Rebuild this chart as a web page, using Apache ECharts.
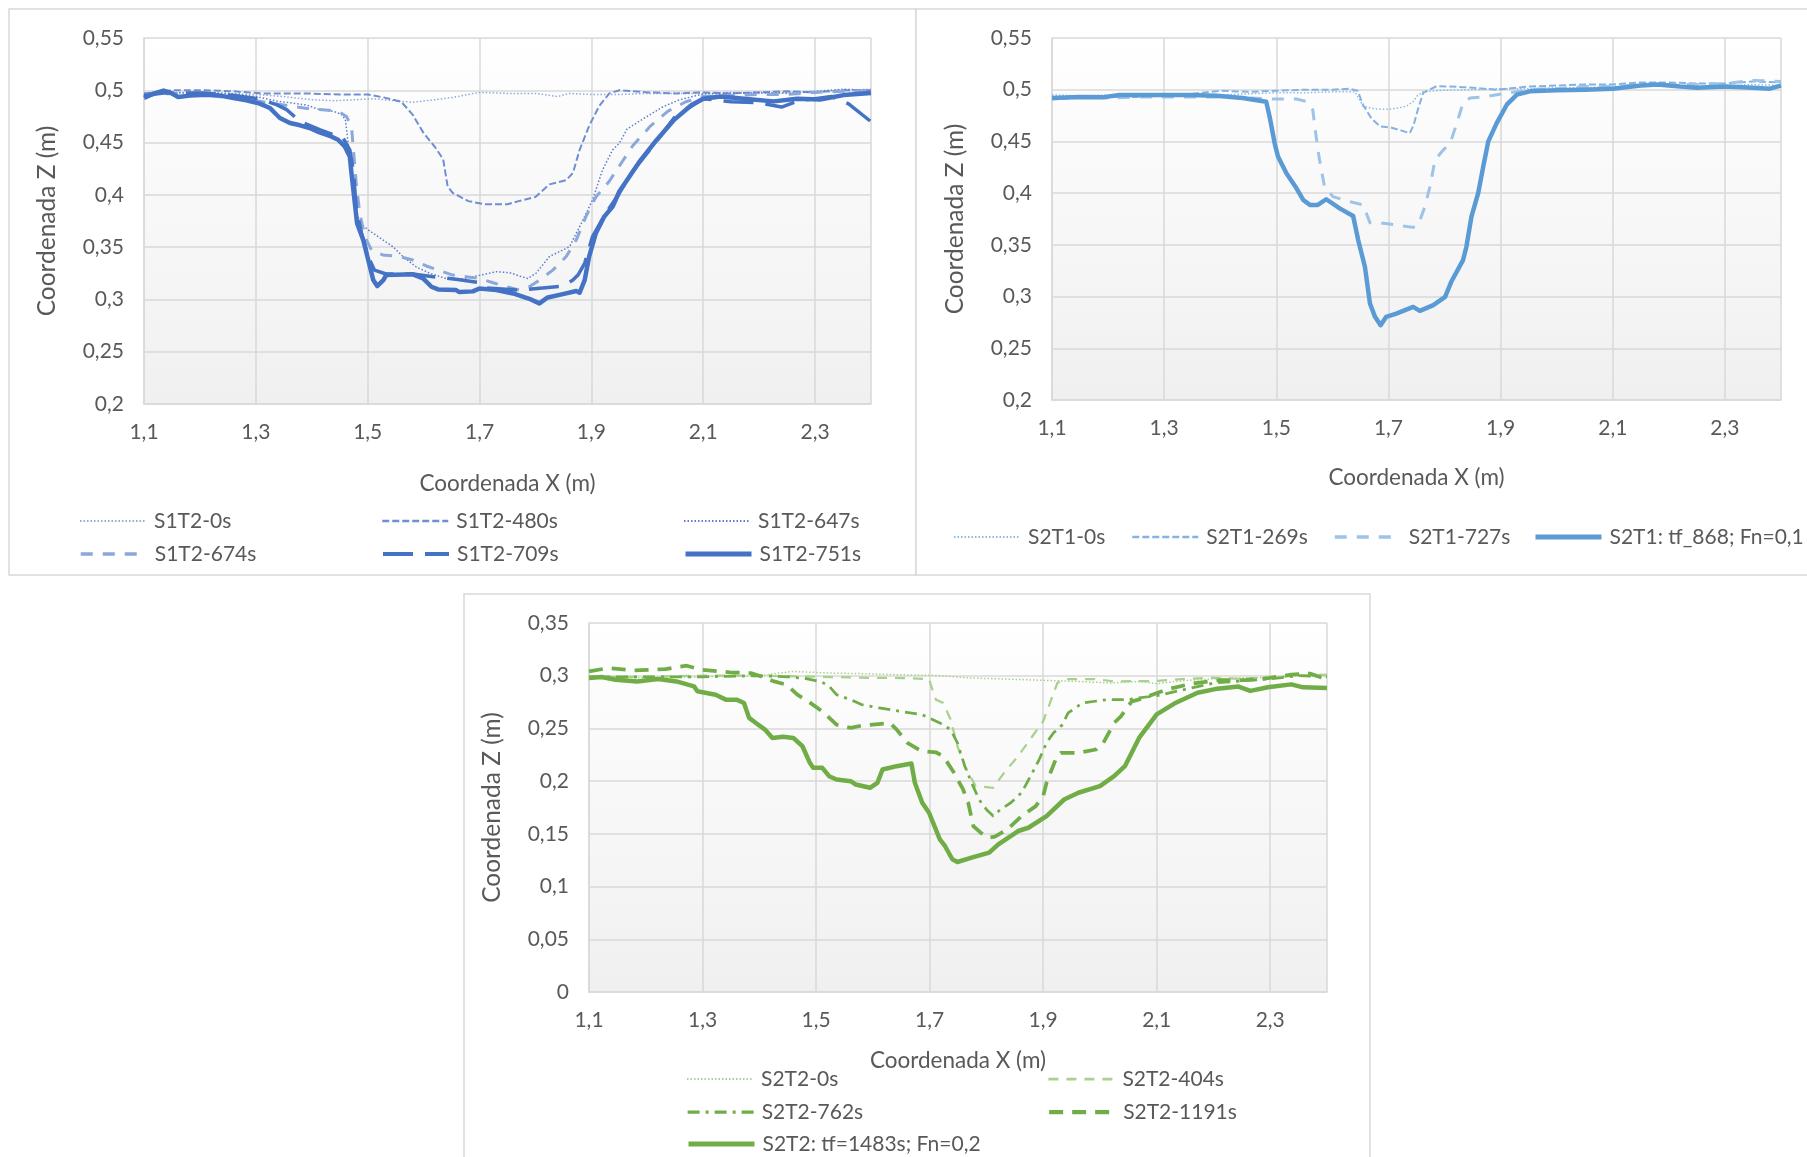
<!DOCTYPE html>
<html>
<head>
<meta charset="utf-8">
<title>Perfiles de erosión</title>
<script src="https://cdn.jsdelivr.net/npm/echarts@6/dist/echarts.min.js"></script>
<style>
  html, body { margin: 0; padding: 0; background: #ffffff; }
  #chart { width: 1807px; height: 1157px; }
</style>
</head>
<body>
<div id="chart"></div>
<script>
// ---------- Ensayo S1T2: perfiles [X (m), Z (m)] ----------
const s1t2_0s = [[1.10,0.497],[1.15,0.498],[1.20,0.497],[1.25,0.497],[1.30,0.496],[1.35,0.494],[1.40,0.491],[1.44,0.490],[1.48,0.491],[1.51,0.492],[1.55,0.490],[1.58,0.4885],[1.62,0.491],[1.65,0.493],[1.70,0.498],[1.75,0.497],[1.80,0.497],[1.84,0.494],[1.86,0.497],[1.90,0.496],[1.95,0.496],[2.00,0.497],[2.05,0.497],[2.10,0.497],[2.15,0.498],[2.20,0.497],[2.25,0.498],[2.30,0.499],[2.35,0.500],[2.40,0.501]];
const s1t2_480s = [[1.10,0.497],[1.15,0.500],[1.21,0.500],[1.26,0.499],[1.31,0.497],[1.39,0.497],[1.45,0.496],[1.50,0.496],[1.53,0.493],[1.56,0.489],[1.58,0.477],[1.60,0.459],[1.62,0.446],[1.635,0.434],[1.643,0.408],[1.652,0.402],[1.68,0.394],[1.71,0.391],[1.75,0.391],[1.77,0.394],[1.80,0.398],[1.825,0.410],[1.855,0.414],[1.867,0.421],[1.879,0.443],[1.896,0.466],[1.914,0.485],[1.932,0.497],[1.95,0.500],[2.00,0.498],[2.05,0.497],[2.10,0.498],[2.15,0.497],[2.20,0.498],[2.25,0.499],[2.30,0.498],[2.35,0.500],[2.40,0.500]];
const s1t2_647s = [[1.10,0.497],[1.20,0.498],[1.25,0.497],[1.30,0.494],[1.34,0.4895],[1.39,0.486],[1.414,0.4815],[1.438,0.480],[1.453,0.477],[1.46,0.472],[1.465,0.450],[1.471,0.414],[1.477,0.389],[1.486,0.373],[1.501,0.3665],[1.527,0.357],[1.545,0.3505],[1.563,0.341],[1.587,0.331],[1.611,0.325],[1.64,0.320],[1.658,0.3185],[1.688,0.3217],[1.70,0.323],[1.73,0.3265],[1.754,0.3256],[1.771,0.3224],[1.786,0.320],[1.801,0.325],[1.825,0.341],[1.861,0.3505],[1.885,0.376],[1.902,0.395],[1.92,0.424],[1.938,0.443],[1.95,0.4495],[1.964,0.463],[1.995,0.4735],[2.027,0.484],[2.058,0.491],[2.10,0.4965],[2.15,0.497],[2.20,0.498],[2.25,0.497],[2.30,0.499],[2.35,0.501],[2.40,0.500]];
const s1t2_674s = [[1.10,0.495],[1.15,0.497],[1.20,0.496],[1.25,0.493],[1.30,0.490],[1.35,0.486],[1.40,0.482],[1.43,0.481],[1.45,0.479],[1.462,0.475],[1.471,0.4655],[1.474,0.446],[1.48,0.408],[1.486,0.382],[1.495,0.360],[1.507,0.347],[1.527,0.3425],[1.557,0.341],[1.581,0.3377],[1.605,0.332],[1.629,0.3275],[1.652,0.3233],[1.676,0.3217],[1.70,0.320],[1.724,0.316],[1.748,0.3121],[1.771,0.3089],[1.789,0.3121],[1.807,0.3185],[1.831,0.328],[1.855,0.341],[1.873,0.357],[1.89,0.379],[1.908,0.398],[1.932,0.413],[1.953,0.430],[1.974,0.447],[2.006,0.466],[2.037,0.480],[2.069,0.489],[2.10,0.494],[2.15,0.495],[2.20,0.496],[2.25,0.496],[2.30,0.498],[2.35,0.499],[2.40,0.500]];
const s1t2_709s = [[1.10,0.4949],[1.135,0.4974],[1.206,0.4974],[1.265,0.4949],[1.307,0.4917],[1.337,0.4863],[1.355,0.4815],[1.379,0.4703],[1.414,0.4623],[1.438,0.4575],[1.456,0.4543],[1.468,0.4431],[1.474,0.424],[1.48,0.3856],[1.489,0.3633],[1.501,0.3409],[1.512,0.3281],[1.533,0.3243],[1.581,0.3243],[1.617,0.3217],[1.658,0.3192],[1.70,0.316],[1.712,0.3109],[1.771,0.3089],[1.849,0.3128],[1.867,0.3185],[1.876,0.3233],[1.888,0.3345],[1.902,0.3601],[1.926,0.3824],[1.95,0.4016],[1.97,0.420],[2.00,0.440],[2.05,0.475],[2.10,0.492],[2.15,0.489],[2.20,0.488],[2.24,0.484],[2.27,0.490],[2.30,0.492],[2.33,0.494],[2.36,0.487],[2.40,0.470]];
const s1t2_751s = [[1.10,0.4927],[1.117,0.4968],[1.135,0.4997],[1.146,0.498],[1.161,0.4936],[1.182,0.4949],[1.212,0.4958],[1.236,0.4949],[1.26,0.4927],[1.283,0.4904],[1.307,0.4872],[1.325,0.4831],[1.334,0.4783],[1.343,0.4735],[1.361,0.4687],[1.379,0.4665],[1.396,0.4639],[1.414,0.4597],[1.432,0.4565],[1.447,0.4527],[1.459,0.4463],[1.468,0.4367],[1.471,0.4208],[1.477,0.392],[1.481,0.3728],[1.492,0.3569],[1.501,0.3377],[1.51,0.3185],[1.517,0.3128],[1.528,0.3185],[1.533,0.3233],[1.581,0.324],[1.599,0.3201],[1.614,0.3121],[1.626,0.3096],[1.658,0.3089],[1.664,0.307],[1.688,0.3077],[1.70,0.3105],[1.73,0.3089],[1.76,0.3057],[1.789,0.3006],[1.807,0.2962],[1.822,0.3019],[1.849,0.3051],[1.873,0.308],[1.879,0.3064],[1.888,0.3185],[1.896,0.3409],[1.908,0.3633],[1.923,0.3792],[1.938,0.3888],[1.95,0.4032],[1.985,0.431],[2.016,0.452],[2.048,0.4717],[2.079,0.4859],[2.10,0.4919],[2.131,0.494],[2.173,0.4919],[2.226,0.4894],[2.268,0.4919],[2.309,0.4912],[2.351,0.4954],[2.40,0.4975]];

// ---------- Ensayo S2T1 ----------
const s2t1_0s = [[1.10,0.495],[1.15,0.494],[1.20,0.495],[1.25,0.495],[1.30,0.495],[1.35,0.494],[1.40,0.495],[1.45,0.496],[1.50,0.497],[1.55,0.497],[1.60,0.498],[1.64,0.498],[1.655,0.484],[1.675,0.4815],[1.697,0.481],[1.715,0.482],[1.732,0.484],[1.745,0.489],[1.75,0.4935],[1.762,0.498],[1.80,0.4995],[1.85,0.500],[1.90,0.501],[1.95,0.501],[2.00,0.502],[2.05,0.502],[2.10,0.503],[2.15,0.503],[2.20,0.504],[2.25,0.503],[2.30,0.504],[2.35,0.505],[2.40,0.504]];
const s2t1_269s = [[1.10,0.491],[1.15,0.492],[1.20,0.493],[1.25,0.493],[1.30,0.494],[1.35,0.496],[1.40,0.499],[1.45,0.498],[1.50,0.499],[1.55,0.500],[1.60,0.500],[1.63,0.501],[1.645,0.499],[1.655,0.485],[1.67,0.472],[1.685,0.4645],[1.704,0.4635],[1.72,0.461],[1.738,0.458],[1.745,0.466],[1.752,0.480],[1.762,0.497],[1.786,0.5035],[1.833,0.5025],[1.87,0.501],[1.893,0.500],[1.95,0.503],[2.00,0.504],[2.05,0.505],[2.10,0.505],[2.15,0.507],[2.20,0.507],[2.25,0.506],[2.30,0.506],[2.35,0.508],[2.40,0.507]];
const s2t1_727s = [[1.10,0.491],[1.15,0.493],[1.20,0.492],[1.25,0.493],[1.30,0.493],[1.35,0.493],[1.40,0.493],[1.45,0.492],[1.494,0.491],[1.536,0.491],[1.554,0.4887],[1.565,0.4806],[1.571,0.4548],[1.577,0.4322],[1.586,0.4063],[1.601,0.3966],[1.631,0.3918],[1.655,0.3886],[1.667,0.3714],[1.691,0.3708],[1.714,0.3692],[1.744,0.3669],[1.753,0.3692],[1.765,0.387],[1.774,0.4063],[1.783,0.4322],[1.798,0.4419],[1.81,0.4483],[1.821,0.4661],[1.833,0.4871],[1.845,0.4919],[1.875,0.4935],[1.911,0.4968],[1.952,0.500],[2.00,0.501],[2.05,0.503],[2.10,0.503],[2.15,0.505],[2.20,0.505],[2.25,0.505],[2.30,0.506],[2.35,0.509],[2.40,0.508]];
const s2t1_868s = [[1.10,0.4919],[1.149,0.4929],[1.19,0.4926],[1.22,0.4948],[1.298,0.4948],[1.345,0.4948],[1.393,0.4942],[1.44,0.4919],[1.482,0.4884],[1.488,0.4742],[1.497,0.4483],[1.503,0.4354],[1.518,0.4192],[1.536,0.4047],[1.548,0.3934],[1.56,0.3886],[1.574,0.3886],[1.589,0.3941],[1.613,0.3853],[1.637,0.3779],[1.646,0.3547],[1.658,0.3288],[1.667,0.2933],[1.676,0.2804],[1.686,0.2723],[1.696,0.2804],[1.714,0.2836],[1.744,0.290],[1.756,0.2862],[1.78,0.2917],[1.801,0.2997],[1.812,0.3143],[1.833,0.3353],[1.839,0.3482],[1.848,0.3773],[1.86,0.400],[1.869,0.4257],[1.878,0.450],[1.893,0.4677],[1.911,0.4855],[1.929,0.4952],[1.952,0.4984],[2.00,0.4995],[2.05,0.500],[2.10,0.501],[2.15,0.504],[2.18,0.505],[2.22,0.503],[2.25,0.502],[2.30,0.503],[2.35,0.502],[2.38,0.501],[2.40,0.504]];

// ---------- Ensayo S2T2 ----------
const s2t2_0s = [[1.10,0.298],[1.20,0.298],[1.30,0.299],[1.40,0.300],[1.435,0.3025],[1.46,0.3041],[1.523,0.3025],[1.586,0.3019],[1.649,0.3009],[1.711,0.3003],[1.774,0.2978],[1.837,0.2968],[1.90,0.2956],[1.962,0.2946],[2.018,0.2931],[2.068,0.2946],[2.10,0.2925],[2.15,0.2955],[2.20,0.297],[2.25,0.298],[2.30,0.298],[2.35,0.300],[2.40,0.300]];
const s2t2_404s = [[1.10,0.299],[1.20,0.299],[1.30,0.300],[1.40,0.300],[1.50,0.299],[1.60,0.298],[1.649,0.2978],[1.699,0.2968],[1.705,0.2867],[1.711,0.2773],[1.724,0.2741],[1.737,0.2584],[1.749,0.2331],[1.762,0.2142],[1.781,0.1953],[1.812,0.1937],[1.831,0.2079],[1.856,0.2237],[1.881,0.2426],[1.90,0.2568],[1.912,0.2741],[1.925,0.2931],[1.937,0.2968],[1.993,0.2968],[2.025,0.2946],[2.10,0.295],[2.15,0.297],[2.20,0.298],[2.25,0.297],[2.30,0.299],[2.35,0.300],[2.40,0.301]];
const s2t2_762s = [[1.10,0.299],[1.20,0.299],[1.30,0.299],[1.40,0.300],[1.45,0.299],[1.48,0.2975],[1.51,0.294],[1.523,0.290],[1.536,0.282],[1.561,0.2773],[1.58,0.2726],[1.611,0.2694],[1.649,0.2662],[1.686,0.2631],[1.705,0.2584],[1.718,0.2552],[1.737,0.2489],[1.749,0.2363],[1.762,0.2142],[1.774,0.1984],[1.787,0.1826],[1.80,0.1732],[1.812,0.1669],[1.825,0.1732],[1.843,0.1795],[1.862,0.189],[1.881,0.2079],[1.893,0.2205],[1.906,0.2363],[1.918,0.2457],[1.934,0.2536],[1.944,0.2647],[1.969,0.2741],[2.012,0.2773],[2.05,0.2773],[2.068,0.2789],[2.10,0.281],[2.15,0.287],[2.20,0.293],[2.25,0.295],[2.30,0.297],[2.35,0.300],[2.40,0.299]];
const s2t2_1191s = [[1.10,0.3041],[1.134,0.3073],[1.178,0.305],[1.235,0.3063],[1.272,0.3095],[1.297,0.3057],[1.348,0.3032],[1.385,0.3025],[1.40,0.300],[1.426,0.2946],[1.448,0.2915],[1.467,0.282],[1.486,0.2757],[1.511,0.2662],[1.536,0.2536],[1.561,0.2505],[1.58,0.2527],[1.63,0.2552],[1.642,0.2489],[1.661,0.2363],[1.686,0.2284],[1.711,0.2274],[1.724,0.2237],[1.743,0.2079],[1.759,0.1921],[1.768,0.1795],[1.777,0.1574],[1.79,0.1511],[1.802,0.1464],[1.815,0.1473],[1.837,0.1543],[1.862,0.1669],[1.887,0.1763],[1.90,0.1858],[1.906,0.1984],[1.922,0.2205],[1.931,0.2268],[1.962,0.2268],[1.993,0.230],[2.006,0.2363],[2.025,0.2552],[2.037,0.2615],[2.056,0.2757],[2.068,0.2773],[2.12,0.2873],[2.162,0.2925],[2.213,0.2959],[2.255,0.2959],[2.296,0.2976],[2.337,0.301],[2.37,0.302],[2.40,0.2966]];
const s2t2_1483s = [[1.10,0.2978],[1.122,0.2987],[1.147,0.2962],[1.185,0.2946],[1.222,0.2968],[1.254,0.2946],[1.285,0.2899],[1.291,0.2852],[1.323,0.282],[1.341,0.2773],[1.36,0.2773],[1.373,0.2741],[1.382,0.260],[1.394,0.2552],[1.41,0.2489],[1.423,0.241],[1.442,0.242],[1.46,0.241],[1.476,0.2331],[1.489,0.2174],[1.495,0.2126],[1.511,0.2126],[1.523,0.2047],[1.536,0.2016],[1.561,0.200],[1.57,0.1968],[1.595,0.1937],[1.608,0.1984],[1.617,0.211],[1.642,0.2142],[1.668,0.2167],[1.674,0.1984],[1.687,0.1795],[1.699,0.170],[1.718,0.1448],[1.727,0.1385],[1.74,0.1259],[1.749,0.1233],[1.774,0.1274],[1.805,0.1322],[1.821,0.1401],[1.856,0.1527],[1.874,0.1558],[1.906,0.1669],[1.937,0.1826],[1.962,0.189],[2.00,0.1953],[2.025,0.2047],[2.044,0.2142],[2.069,0.241],[2.10,0.2633],[2.131,0.2736],[2.172,0.2839],[2.203,0.2873],[2.244,0.2897],[2.265,0.2856],[2.296,0.289],[2.337,0.2918],[2.358,0.289],[2.40,0.2883]];

// ---------- Axis ranges and tick steps ----------
const xRange = [1.1, 2.4];
const xStep = 0.2;
const zRangeS1 = [0.2, 0.55];
const zRangeS2T2 = [0, 0.35];
const zStep = 0.05;

// ---------- Series names ----------
const namesS1T2 = ['S1T2-0s', 'S1T2-480s', 'S1T2-647s', 'S1T2-674s', 'S1T2-709s', 'S1T2-751s'];
const namesS2T1 = ['S2T1-0s', 'S2T1-269s', 'S2T1-727s', 'S2T1: tf_868; Fn=0,1'];
const namesS2T2 = ['S2T2-0s', 'S2T2-404s', 'S2T2-762s', 'S2T2-1191s', 'S2T2: tf=1483s; Fn=0,2'];

const FONT = 'Lato, "Open Sans", sans-serif';
const TEXT = '#595959';
const GRIDLINE = '#D9D9D9';

function comma(v) {
  return String(Math.round(v * 1000) / 1000).replace('.', ',');
}
function xLabel(v) {
  const k = (v - xRange[0]) / xStep;
  if (Math.abs(k - Math.round(k)) > 1e-6) return '';
  return comma(v);
}

// plot boxes: [left, top, width, height]
const plots = [
  [144, 38, 727, 366],
  [1052, 38, 729, 362],
  [589, 623, 738, 369]
];
const zRanges = [zRangeS1, zRangeS1, zRangeS2T2];
const xNameGap = [68, 66, 57];

const grids = plots.map(p => ({
  left: p[0], top: p[1], width: p[2], height: p[3],
  show: true, borderWidth: 0,
  backgroundColor: {
    type: 'linear', x: 0, y: 0, x2: 0, y2: 1,
    colorStops: [{ offset: 0, color: '#FFFFFF' }, { offset: 1, color: '#F0F0F0' }]
  }
}));

const xAxes = plots.map((p, i) => ({
  type: 'value', gridIndex: i,
  min: xRange[0], max: xRange[1], interval: xStep,
  name: 'Coordenada X (m)', nameLocation: 'middle', nameGap: xNameGap[i],
  nameTextStyle: { fontFamily: FONT, fontSize: 22.5, color: TEXT },
  axisLine: { show: true, lineStyle: { color: GRIDLINE, width: 1.5 } },
  axisTick: { show: false },
  splitLine: { show: true, lineStyle: { color: GRIDLINE, width: 1.5 } },
  axisLabel: { fontFamily: FONT, fontSize: 21, color: TEXT, margin: 18, formatter: xLabel, showMaxLabel: false }
}));

const yAxes = plots.map((p, i) => ({
  type: 'value', gridIndex: i,
  min: zRanges[i][0], max: zRanges[i][1], interval: zStep,
  name: 'Coordenada Z (m)', nameLocation: 'middle', nameGap: 84, nameRotate: 90,
  nameTextStyle: { fontFamily: FONT, fontSize: 24.5, color: TEXT },
  axisLine: { show: true, lineStyle: { color: GRIDLINE, width: 1.5 } },
  axisTick: { show: false },
  splitLine: { show: true, lineStyle: { color: GRIDLINE, width: 1.5 } },
  axisLabel: { fontFamily: FONT, fontSize: 21, color: TEXT, margin: 20, formatter: comma }
}));

function line(name, data, gi, color, width, type) {
  return {
    name, type: 'line', data, xAxisIndex: gi, yAxisIndex: gi,
    symbol: 'none', showSymbol: false, smooth: false, silent: true,
    lineStyle: { color, width, type, join: 'round', cap: 'butt' },
    itemStyle: { color }
  };
}
const DOT = [1.5, 2];

const series = [
  line(namesS1T2[0], s1t2_0s, 0, '#8FAADC', 1.5, DOT),
  line(namesS1T2[1], s1t2_480s, 0, '#6F8FD0', 2, [7, 3]),
  line(namesS1T2[2], s1t2_647s, 0, '#5A7ECB', 1.5, DOT),
  line(namesS1T2[3], s1t2_674s, 0, '#8BA7DB', 3, [12, 10]),
  line(namesS1T2[4], s1t2_709s, 0, '#4472C4', 3.5, [30, 12]),
  line(namesS1T2[5], s1t2_751s, 0, '#4472C4', 4.5, 'solid'),

  line(namesS2T1[0], s2t1_0s, 1, '#8DB9E5', 1.5, DOT),
  line(namesS2T1[1], s2t1_269s, 1, '#84B3E1', 2, [7, 3]),
  line(namesS2T1[2], s2t1_727s, 1, '#9DC3E6', 3, [12, 10]),
  line(namesS2T1[3], s2t1_868s, 1, '#5B9BD5', 4.5, 'solid'),

  line(namesS2T2[0], s2t2_0s, 2, '#A9D18E', 1.5, DOT),
  line(namesS2T2[1], s2t2_404s, 2, '#A9D18E', 2.25, [10, 8]),
  line(namesS2T2[2], s2t2_762s, 2, '#70AD47', 2.75, [12, 6, 3, 6]),
  line(namesS2T2[3], s2t2_1191s, 2, '#70AD47', 3.75, [14, 9]),
  line(namesS2T2[4], s2t2_1483s, 2, '#70AD47', 4.5, 'solid')
];

// one legend block per entry, laid out in columns under each plot;
// the key shows only the stroke (no marker), at the series' own width
function legendItem(name, left, centerY) {
  const s = series.find(d => d.name === name);
  return {
    data: [name], left, top: centerY - 12, orient: 'horizontal',
    padding: 0, itemWidth: 66, itemHeight: 14, itemGap: 0, selectedMode: false,
    itemStyle: { opacity: 0 },
    lineStyle: { width: s.lineStyle.width + 0.5 },
    textStyle: { fontFamily: FONT, fontSize: 21, color: TEXT, lineHeight: 24, padding: [0, 0, 0, 3] }
  };
}
const legends = [
  legendItem(namesS1T2[0], 79, 521), legendItem(namesS1T2[1], 381, 521), legendItem(namesS1T2[2], 683, 521),
  legendItem(namesS1T2[3], 79, 554), legendItem(namesS1T2[4], 381, 554), legendItem(namesS1T2[5], 683, 554),
  legendItem(namesS2T1[0], 953, 537), legendItem(namesS2T1[1], 1131, 537),
  legendItem(namesS2T1[2], 1333, 537), legendItem(namesS2T1[3], 1533, 537),
  legendItem(namesS2T2[0], 686, 1079), legendItem(namesS2T2[1], 1047, 1079),
  legendItem(namesS2T2[2], 686, 1112), legendItem(namesS2T2[3], 1047, 1112),
  legendItem(namesS2T2[4], 686, 1144)
];

// chart frames
const frames = [
  [9, 9, 907, 566],
  [916, 9, 1000, 566],
  [464, 594, 906, 600]
].map(r => ({
  type: 'rect', z: -10, silent: true,
  shape: { x: r[0], y: r[1], width: r[2], height: r[3] },
  style: { fill: '#FFFFFF', stroke: '#D9D9D9', lineWidth: 1.5 }
}));

const chart = echarts.init(document.getElementById('chart'), null, { renderer: 'canvas' });
chart.setOption({
  animation: false,
  backgroundColor: '#FFFFFF',
  textStyle: { fontFamily: FONT },
  graphic: frames,
  grid: grids,
  xAxis: xAxes,
  yAxis: yAxes,
  legend: legends,
  series
});
</script>
</body>
</html>
